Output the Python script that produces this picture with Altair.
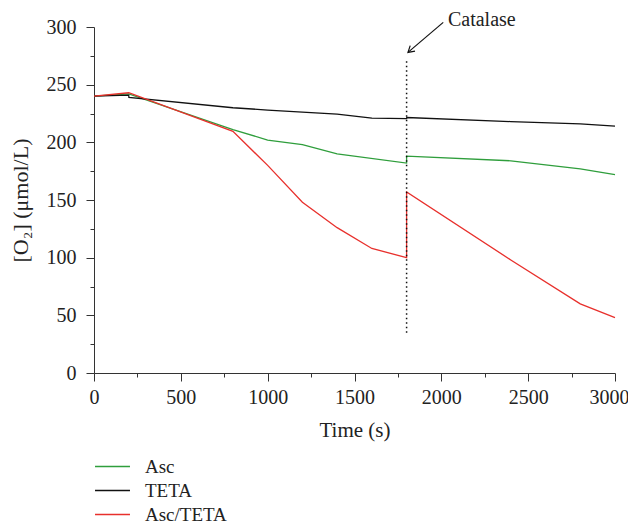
import altair as alt
import pandas as pd

# ---- data ----
series_names = ["Asc", "TETA", "Asc/TETA"]
series_colors = ["#2f9e3c", "#111111", "#e8302c"]

t_asc = [0, 200, 800, 1000, 1200, 1400, 1800, 1800, 2400, 2800, 3000]
v_asc = [240, 242, 211, 202, 198, 190, 182, 188, 184, 177, 172]

t_teta = [0, 200, 201, 800, 1000, 1400, 1600, 1800, 1801, 2400, 2800, 3000]
v_teta = [240, 241, 239, 230, 228, 224.5, 221, 220.5, 221.5, 218, 216, 214]

t_mix = [0, 200, 800, 1000, 1200, 1400, 1600, 1800, 1800, 2400, 2800, 3000]
v_mix = [240, 243, 209.5, 180, 148, 126, 108, 100, 157, 98, 60, 48]

catalase_t = 1800
catalase_span = [35, 272]
arrow_tail = [2011, 304]
arrow_tip = [1808, 278]
label_pos = [2038, 306]

x_ticks = [0, 250, 500, 750, 1000, 1250, 1500, 1750, 2000, 2250, 2500, 2750, 3000]
y_ticks = [0, 25, 50, 75, 100, 125, 150, 175, 200, 225, 250, 275, 300]

rows = []
for name, ts, vs in [("Asc", t_asc, v_asc), ("TETA", t_teta, v_teta), ("Asc/TETA", t_mix, v_mix)]:
    for i, (t, v) in enumerate(zip(ts, vs)):
        rows.append({"series": name, "t": t, "o2": v, "idx": i})
df = pd.DataFrame(rows)

FONT = "Liberation Serif"
AX = "#333333"
TXT = "#222222"

xs = alt.Scale(domain=[0, 3000], nice=False, zero=False)
ys = alt.Scale(domain=[0, 300], nice=False)

x_axis = alt.Axis(values=x_ticks, format="d", title="Time (s)", grid=False,
                  labelExpr="datum.value % 500 === 0 ? datum.label : ''",
                  labelOffset={"condition": {"test": "datum.value === 3000", "value": -6}, "value": 0},
                  tickSize={"condition": {"test": "datum.value % 500 === 0", "value": 8}, "value": 4},
                  tickColor=AX, domainColor=AX, labelPadding=6, titleFontSize=21,
                  titlePadding=12, labelFlush=False, labelOverlap=False)
y_axis = alt.Axis(values=y_ticks, format="d", title="[O₂] (μmol/L)", grid=False,
                  labelExpr="datum.value % 50 === 0 ? datum.label : ''",
                  tickSize={"condition": {"test": "datum.value % 50 === 0", "value": 8}, "value": 4},
                  tickColor=AX, domainColor=AX, labelPadding=10, titleFontSize=22,
                  titlePadding=14, labelOverlap=False)


def X(field):
    return alt.X(field, type="quantitative", scale=xs, axis=x_axis)


def Y(field):
    return alt.Y(field, type="quantitative", scale=ys, axis=y_axis)


lines = alt.Chart(df).mark_line(strokeWidth=1.3).encode(
    x=X("t"),
    y=Y("o2"),
    color=alt.Color("series:N",
                    scale=alt.Scale(domain=series_names, range=series_colors),
                    sort=series_names,
                    legend=alt.Legend(title=None, orient="none", legendX=6, legendY=427,
                                      symbolType="M -1.52 0 L 1.52 0", symbolSize=529,
                                      symbolStrokeWidth=1.5, labelFont=FONT,
                                      labelFontSize=19, labelColor=TXT, padding=0,
                                      labelOffset=20, rowPadding=1)),
    order="idx:Q",
)

vline = alt.Chart(pd.DataFrame({"t": [catalase_t], "o2": [catalase_span[0]],
                                "o2b": [catalase_span[1]]})).mark_rule(
    color="#111111", strokeWidth=1.5, strokeDash=[1.5, 3]).encode(
    x=X("t"), y=Y("o2"), y2="o2b:Q")

arrow_line = alt.Chart(pd.DataFrame({"t": [arrow_tail[0]], "o2": [arrow_tail[1]],
                                     "t2": [arrow_tip[0]], "o2b": [arrow_tip[1]]})).mark_rule(
    color="#111111", strokeWidth=1.2).encode(x=X("t"), y=Y("o2"), x2="t2:Q", y2="o2b:Q")

arrow_head = alt.Chart(pd.DataFrame({"t": [arrow_tip[0]], "o2": [arrow_tip[1]]})).mark_point(
    shape="M -0.6 1 L 0 0 L 0.6 1", filled=False, color="#111111", strokeWidth=1.2,
    size=150, angle=229, opacity=1).encode(x=X("t"), y=Y("o2"))

label = alt.Chart(pd.DataFrame({"t": [label_pos[0]], "o2": [label_pos[1]],
                                "txt": ["Catalase"]})).mark_text(
    align="left", baseline="middle", font=FONT, fontSize=20, color=TXT).encode(
    x=X("t"), y=Y("o2"), text="txt:N")

chart = alt.layer(lines, vline, arrow_line, arrow_head, label).properties(
    width=521, height=346,
    autosize=alt.AutoSizeParams(type="none"),
    padding={"left": 86, "top": 19, "right": 13, "bottom": 150},
).configure_view(stroke=None).configure_axis(
    labelFont=FONT, titleFont=FONT, labelFontSize=20,
    titleFontWeight="normal", labelColor=TXT, titleColor=TXT,
)

chart.save("out.html", embed_options={"renderer": "svg", "actions": False})
